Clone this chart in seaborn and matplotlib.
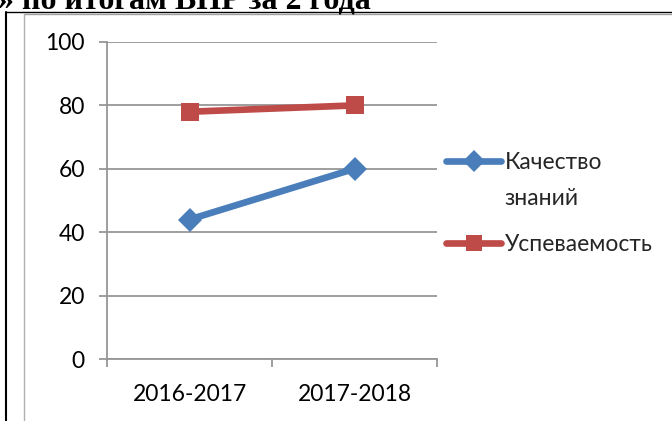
import matplotlib
matplotlib.use("Agg")
import matplotlib.pyplot as plt
from matplotlib.lines import Line2D
import seaborn as sns
import pandas as pd

years = ["2016-2017", "2017-2018"]
quality = [44, 60]
success = [78, 80]
series_names = ["Качество знаний", "Успеваемость"]
legend_lines = ["Качество", "знаний"]
title_text = "» по итогам ВПР за 2 года"

df = pd.DataFrame({
    "year": years * 2,
    "value": quality + success,
    "series": [series_names[0]] * 2 + [series_names[1]] * 2,
})

sns.set_theme(style="white")
plt.rcParams['font.family'] = ['Lato', 'DejaVu Sans']

W, H = 672, 421
fig = plt.figure(figsize=(W / 100, H / 100), dpi=100)
ax = fig.add_axes([107 / W, 1 - 359 / H, 330 / W, 317 / H])

BLUE, RED = "#4A7EBB", "#BE4B48"
palette = {series_names[0]: BLUE, series_names[1]: RED}
markers = {series_names[0]: "D", series_names[1]: "s"}
sns.lineplot(data=df, x="year", y="value", hue="series", style="series",
             palette=palette, markers=markers, dashes=False, ax=ax,
             linewidth=4.8, markersize=11, markeredgewidth=0, legend=False)
for ln in ax.lines:
    if ln.get_marker() == "s":
        ln.set_markersize(13)
    else:
        ln.set_markersize(12.5)

ax.set_xlim(-0.5, 1.5)
ax.set_ylim(0, 100)
ax.set_yticks([0, 20, 40, 60, 80, 100])
ax.set_xticks([0, 1])
ax.set_xticks([-0.5, 0.5, 1.5], minor=True)
ax.set_xlabel("")
ax.set_ylabel("")
gc = "#969696"
ax.yaxis.grid(True, color=gc, linewidth=1.3)
ax.xaxis.grid(False)
for s in ["top", "right"]:
    ax.spines[s].set_visible(False)
for s in ["left", "bottom"]:
    ax.spines[s].set_color(gc)
    ax.spines[s].set_linewidth(1.3)
FS = 16.5
ax.tick_params(axis="y", which="major", direction="out", length=6, width=1.3,
               color=gc, left=True, labelsize=FS, labelcolor="black", pad=10)
ax.tick_params(axis="x", which="major", length=0, labelsize=FS,
               labelcolor="black", pad=18)
ax.tick_params(axis="x", which="minor", direction="out", length=6, width=1.3,
               color=gc, bottom=True)
ax.set_axisbelow(True)

h_blue = Line2D([], [], color=BLUE, lw=4.8, marker="D", markersize=11,
                markeredgewidth=0)
h_red = Line2D([], [], color=RED, lw=4.8, marker="s", markersize=12,
               markeredgewidth=0)
h_none = Line2D([], [], color="none", lw=0)

common = dict(loc="upper left", frameon=False, fontsize=FS, handlelength=2.4,
              handletextpad=0.15, borderaxespad=0, borderpad=0)
leg1 = fig.legend([h_blue, h_none], legend_lines,
                  bbox_to_anchor=(446 / W, 1 - 152 / H), labelspacing=0.65,
                  **common)
leg2 = fig.legend([h_red], [series_names[1]],
                  bbox_to_anchor=(446 / W, 1 - 234 / H), **common)

# page / table decorations
fig.add_artist(Line2D([6 / W, 1], [1 - 11.5 / H, 1 - 11.5 / H], color="black",
                      lw=1.0, transform=fig.transFigure))
fig.add_artist(Line2D([24 / W, 1], [1 - 13.5 / H, 1 - 13.5 / H], color="#a0a0a0",
                      lw=1.0, transform=fig.transFigure))
fig.add_artist(Line2D([6 / W, 6 / W], [0, 1 - 11.5 / H], color="black",
                      lw=1.5, transform=fig.transFigure))
fig.add_artist(Line2D([24 / W, 24 / W], [0, 1 - 13.5 / H], color="#b0b0b0",
                      lw=1.0, transform=fig.transFigure))
fig.text(-2 / W, 1 - 9 / H, title_text, ha="left", va="baseline",
         fontsize=23, fontweight="bold", family=["Liberation Serif", "DejaVu Serif"],
         color="black")

fig.savefig("out.png", dpi=100)
